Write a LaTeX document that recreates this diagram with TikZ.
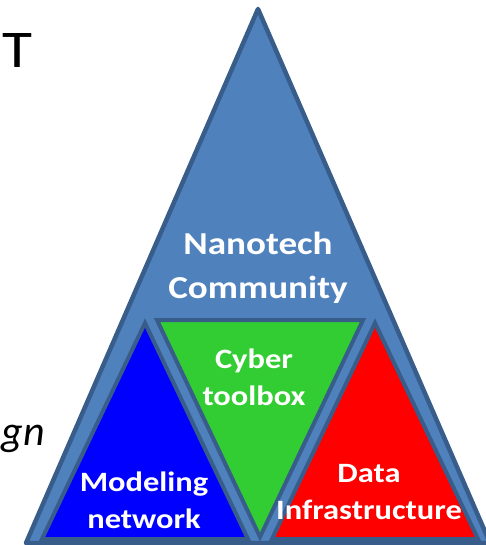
\documentclass[tikz,border=0pt]{standalone}
\usepackage{graphicx}
\usepackage{fontspec}
\setmainfont{Carlito}
\definecolor{pyrfill}{HTML}{4F81BD}
\definecolor{pyrline}{HTML}{385D8A}
\definecolor{modelblue}{HTML}{0000FF}
\definecolor{cybergreen}{HTML}{32CD32}
\definecolor{datared}{HTML}{FF0000}
\newcommand{\wide}[1]{\scalebox{1.16}[1]{#1}}

\begin{document}
\begin{tikzpicture}[x=1pt,y=-1pt,
	outline/.style={draw=pyrline,line width=4.5pt,line join=round},
	subtri/.style={draw=pyrline,line width=4pt,line join=miter},
	toplbl/.style={text=white,font=\bfseries\fontsize{32}{44}\selectfont,align=center,inner sep=0pt},
	sublbl/.style={text=white,font=\bfseries\fontsize{28}{37}\selectfont,align=center,inner sep=0pt}]

\useasboundingbox (0,0) rectangle (486,545);

% Outer pyramid
\coordinate (apex) at (258,9);
\coordinate (bl) at (26,543);
\coordinate (br) at (490,543);
\filldraw[outline,fill=pyrfill] (apex) -- (bl) -- (br) -- cycle;

% Inner triangles
\coordinate (mtop) at (145,323);
\coordinate (ctip) at (260,537);
\coordinate (dtop) at (375,323);
\filldraw[subtri,fill=modelblue] (mtop) -- (42,539) -- (248,539) -- cycle;
\filldraw[subtri,fill=cybergreen] (157,320) -- (363,320) -- (ctip) -- cycle;
\filldraw[subtri,fill=datared] (dtop) -- (272,539) -- (478,539) -- cycle;

% Labels
\node[toplbl] (nano) at (258,268) {\wide{Nanotech}\\\wide{Community}};
\node[sublbl] (cyber) at (254,377) {\wide{Cyber}\\\wide{toolbox}};
\node[sublbl] (model) at (144,500) {\wide{Modeling}\\\wide{network}};
\node[sublbl] (data) at (369,492) {\wide{Data}\\\wide{Infrastructure}};

% Cut-off side text
\node[anchor=base west,inner sep=0pt,font=\fontsize{53}{60}\selectfont] (ttext) at (2,68) {\wide{T}};
\node[anchor=base east,inner sep=0pt,font=\itshape\fontsize{42}{50}\selectfont] (gntext) at (45,445) {gn};
\end{tikzpicture}
\end{document}
